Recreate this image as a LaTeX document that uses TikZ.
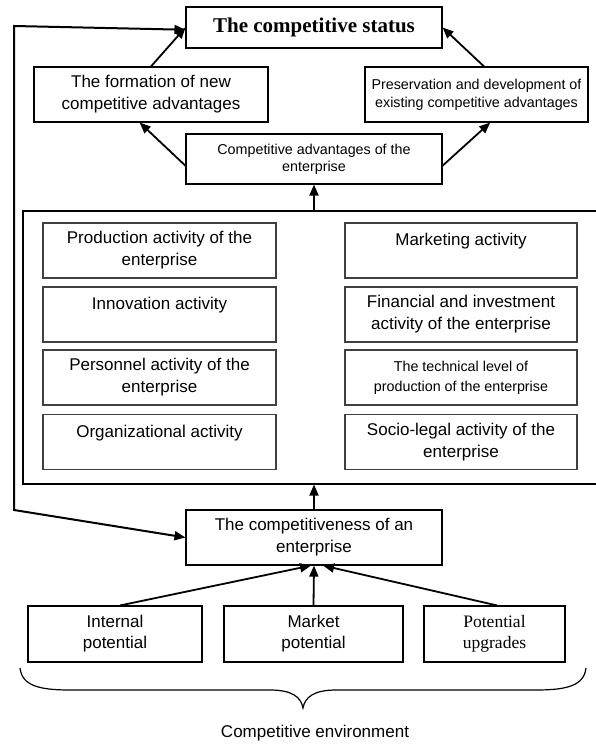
\documentclass[tikz,border=0pt]{standalone}
\usepackage{fontspec}
\setmainfont{Liberation Sans}
\newfontfamily\timesfont{Liberation Serif}
\usetikzlibrary{arrows.meta}

\begin{document}
\begin{tikzpicture}[x=1pt, y=-1pt,
    box/.style={draw, line width=1.1pt, align=center, inner sep=0pt,
      font=\fontsize{17}{22}\selectfont},
    smallbox/.style={box, font=\fontsize{14.3}{18}\selectfont},
    actbox/.style={box, draw=black!75, line width=1.5pt, minimum height=55pt},
    arr/.style={-{Triangle[length=11pt,width=9pt]}, line width=1.8pt},
    feedback/.style={{Triangle[length=11pt,width=9pt]}-{Triangle[length=11pt,width=9pt]}, line width=2pt}]
  \useasboundingbox (0,0) rectangle (595,746);

  % top part
  \node[box, minimum width=256pt, minimum height=41pt,
    font=\timesfont\bfseries\fontsize{21}{24}\selectfont] (status) at (314,27.5) {The competitive status};
  \node[box, minimum width=234pt, minimum height=55pt] (newadv) at (151,94.5) {The formation of new\\competitive advantages};
  \node[smallbox, minimum width=223pt, minimum height=55pt] (keepadv) at (476.5,94.5) {Preservation and development of\\existing competitive advantages};
  \node[smallbox, minimum width=256pt, minimum height=50pt,
    font=\fontsize{14.3}{17}\selectfont] (compadv) at (314,159) {Competitive advantages of the\\enterprise};

  % activities of the enterprise
  \node[box, minimum width=590pt, minimum height=273pt] (frame) at (318,347.5) {};
  \node[actbox, minimum width=233pt] (prod) at (159.5,250.5) {Production activity of the\\enterprise};
  \node[actbox, minimum width=233pt] (innov) at (159.5,314.5) {Innovation activity\\\mbox{}};
  \node[actbox, minimum width=233pt] (staff) at (159.5,377.5) {Personnel activity of the\\enterprise};
  \node[actbox, minimum width=233pt] (org) at (159.5,442) {Organizational activity\\\mbox{}};
  \node[actbox, minimum width=232pt] (mark) at (461,250.5) {Marketing activity\\\mbox{}};
  \node[actbox, minimum width=232pt] (fin) at (461,314.5) {Financial and investment\\activity of the enterprise};
  \node[actbox, minimum width=232pt, font=\fontsize{14.3}{20}\selectfont] (tech) at (461,377.5) {The technical level of\\production of the enterprise};
  \node[actbox, minimum width=232pt] (legal) at (461,442) {Socio-legal activity of the\\enterprise};

  % bottom part
  \node[box, minimum width=256pt, minimum height=55pt] (compet) at (314,537.5) {The competitiveness of an\\enterprise};
  \node[box, minimum width=174pt, minimum height=56pt,
    font=\fontsize{17}{21}\selectfont] (internal) at (115,634) {Internal\\potential};
  \node[box, minimum width=179pt, minimum height=56pt,
    font=\fontsize{17}{21}\selectfont] (market) at (313.5,634) {Market\\potential};
  \node[box, minimum width=141pt, minimum height=56pt,
    font=\timesfont\fontsize{17.5}{21}\selectfont] (upgrades) at (494.5,634) {Potential\\upgrades};
  \node[font=\fontsize{17}{22}\selectfont] (env) at (315,733) {Competitive environment};

  \coordinate (fbtop) at (14,26);
  \coordinate (fbbot) at (14,510);

  \draw[arr] (newadv.north) -- (status.west);
  \draw[arr] (keepadv.75) -- (status.east);
  \draw[arr] (compadv.183) -- (newadv.248);
  \draw[arr] (compadv.357) -- (keepadv.296);
  \draw[arr] (frame.north -| compadv.south) -- (compadv.south);
  \draw[arr] (compet.north) -- (compet.north |- frame.south);
  \draw[arr] (internal.80) -- (compet.264);
  \draw[arr] (market.north) -- (compet.south);
  \draw[arr] (upgrades.85) -- (compet.288);
  \draw[feedback] (status.181) -- (fbtop) -- (fbbot) -- (compet.west);

  % brace
  \draw[line width=1.2pt] (20,668) .. controls (22,686) and (40,690) .. (70,690) -- (270,690)
    .. controls (292,690) and (301,697) .. (303,708)
    .. controls (305,697) and (314,690) .. (336,690) -- (536,690)
    .. controls (566,690) and (584,686) .. (586,668);
\end{tikzpicture}
\end{document}
